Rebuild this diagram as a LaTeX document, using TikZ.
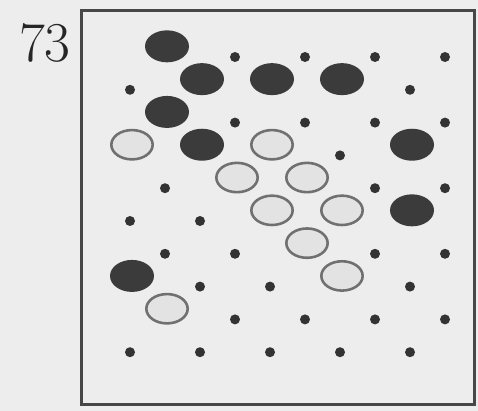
\documentclass[tikz,border=0pt]{standalone}
\begin{document}
\begin{tikzpicture}[
    frame/.style={line width=3.4pt, black!72},
    stone/.style={fill=black!77},
    ring/.style={draw=black!56, line width=2.2pt, fill=black!11},
    pin/.style={fill=black!80}]

  % Background and page size
  \fill[black!7] (0,0) rectangle (14.34,-12.33);
  \useasboundingbox (0,0) rectangle (14.34,-12.33);

  % Frame
  \draw[frame] (2.445,-0.315) rectangle (14.235,-12.135);

  % Figure number
  \node[font=\fontsize{48}{48}\selectfont, black!85] (num) at (1.35,-1.30) {73};

  % Small dots (h = half column, r = row)
  \foreach \h/\r in {3/0,5/0,7/0,9/0, 0/1,8/1, 3/2,5/2,7/2,9/2, 6/3,
                     1/4,7/4,9/4, 0/5,2/5, 1/6,3/6,7/6,9/6, 2/7,4/7,8/7,
                     3/8,5/8,7/8,9/8, 0/9,2/9,4/9,6/9,8/9}
    \fill[pin] ({3.9+1.05*\h},{-1.71-0.984*\r}) circle (0.15);

  % Dark stones
  \foreach \h/\r in {1/0, 2/1,4/1,6/1, 1/2, 2/3,8/3, 8/5, 0/7}
    \fill[stone] ({3.96+1.05*\h},{-1.39-0.984*\r})
      ellipse [x radius=0.66, y radius=0.48];

  % Open rings
  \foreach \h/\r in {0/3,4/3, 3/4,5/4, 4/5,6/5, 5/6, 6/7, 1/8}
    \draw[ring] ({3.96+1.05*\h},{-1.39-0.984*\r})
      ellipse [x radius=0.62, y radius=0.44];

\end{tikzpicture}
\end{document}
